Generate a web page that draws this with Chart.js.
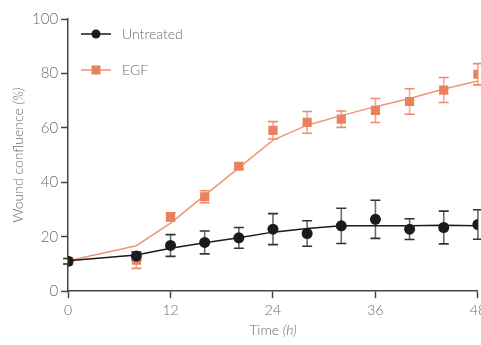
<!DOCTYPE html>
<html>
<head>
<meta charset="utf-8">
<script src="https://cdn.jsdelivr.net/npm/chart.js@4"></script>
<style>
  html, body { margin: 0; padding: 0; background: #fff; overflow: hidden; }
  #wrap { width: 490px; height: 345px; }
</style>
</head>
<body>
<div id="wrap"><canvas id="woundChart"></canvas></div>
<script>
// time points (h)
var times = [0, 8, 12, 16, 20, 24, 28, 32, 36, 40, 44, 48];

// measured means and errors
var untreatedMean = [11.0, 12.9, 16.8, 17.9, 19.6, 22.8, 21.2, 24.0, 26.4, 22.8, 23.4, 24.5];
var untreatedErr  = [1.0, 1.5, 4.0, 4.2, 3.8, 5.7, 4.7, 6.5, 7.0, 3.8, 6.0, 5.4];
var egfMean = [11.0, 11.4, 27.3, 34.7, 45.9, 59.1, 62.0, 63.2, 66.4, 69.7, 73.9, 79.7];
var egfErr  = [1.0, 3.0, 1.5, 2.2, 1.0, 3.2, 4.0, 3.0, 4.4, 4.7, 4.6, 3.9];

// fitted curves
var untreatedFit = [11.2, 13.3, 15.8, 17.8, 19.6, 21.7, 23.0, 24.0, 24.0, 24.0, 24.2, 24.0];
var egfFit = [11.2, 16.7, 25.0, 35.2, 45.3, 55.5, 61.0, 64.5, 67.8, 70.8, 74.3, 77.2];

var xTicks = [0, 12, 24, 36, 48];

var blackCol = '#1c1a1a';
var egfCol = 'rgb(234,128,92)';
var egfLine = 'rgb(239,150,118)';
var textCol = '#6a6a6a';
var axisCol = '#444';
var fontFam = 'Lato, "Open Sans", sans-serif';

function pts(ys) {
  var out = [];
  for (var i = 0; i < times.length; i++) out.push({x: times[i], y: ys[i]});
  return out;
}

// error bars drawn before the markers
var errorBars = {
  id: 'errorBars',
  beforeDatasetsDraw: function(chart) {
    var ctx = chart.ctx;
    var xs = chart.scales.x, ys = chart.scales.y;
    var sets = [
      {m: egfMean, e: egfErr, col: 'rgb(243,170,145)', cap: 'rgb(236,140,108)'},
      {m: untreatedMean, e: untreatedErr, col: '#6b6b6b', cap: '#333'}
    ];
    ctx.save();
    sets.forEach(function(s) {
      for (var i = 0; i < times.length; i++) {
        var px = xs.getPixelForValue(times[i]);
        var top = ys.getPixelForValue(s.m[i] + s.e[i]);
        var bot = ys.getPixelForValue(s.m[i] - s.e[i]);
        ctx.strokeStyle = s.col;
        ctx.lineWidth = 1.6;
        ctx.beginPath();
        ctx.moveTo(px, top); ctx.lineTo(px, bot);
        ctx.stroke();
        ctx.strokeStyle = s.cap;
        ctx.beginPath();
        ctx.moveTo(px - 5, top); ctx.lineTo(px + 5, top);
        ctx.moveTo(px - 5, bot); ctx.lineTo(px + 5, bot);
        ctx.stroke();
      }
    });
    ctx.restore();
  }
};

// draws "text (unit)" with the unit part in italics, centred on x,y
function mixedTitle(ctx, main, unit, x, y) {
  var f1 = '300 14px ' + fontFam;
  var f2 = 'italic 300 14px ' + fontFam;
  ctx.font = f1;
  var w1 = ctx.measureText(main).width;
  ctx.font = f2;
  var w2 = ctx.measureText(unit).width;
  var start = x - (w1 + w2) / 2;
  ctx.textAlign = 'left';
  ctx.textBaseline = 'middle';
  ctx.font = f1;
  ctx.fillText(main, start, y);
  ctx.font = f2;
  ctx.fillText(unit, start + w1, y);
}

// axis titles and legend inside the plot
var annotations = {
  id: 'annotations',
  afterDraw: function(chart) {
    var ctx = chart.ctx;
    var area = chart.chartArea;
    ctx.save();
    ctx.fillStyle = textCol;
    mixedTitle(ctx, 'Time ', '(h)', (area.left + area.right) / 2, 330);
    ctx.save();
    ctx.translate(18, (area.top + area.bottom) / 2);
    ctx.rotate(-Math.PI / 2);
    mixedTitle(ctx, 'Wound confluence ', '(%)', 0, 0);
    ctx.restore();

    var items = [
      {label: 'Untreated', line: blackCol, mark: 'circle', fill: blackCol, y: 34},
      {label: 'EGF', line: egfLine, mark: 'square', fill: egfCol, y: 70}
    ];
    items.forEach(function(it) {
      ctx.strokeStyle = it.line;
      ctx.lineWidth = 1.5;
      ctx.beginPath();
      ctx.moveTo(81, it.y); ctx.lineTo(111, it.y);
      ctx.stroke();
      ctx.fillStyle = it.fill;
      if (it.mark === 'circle') {
        ctx.beginPath();
        ctx.arc(96, it.y, 4.5, 0, Math.PI * 2);
        ctx.fill();
      } else {
        ctx.fillRect(91.5, it.y - 4.5, 9, 9);
      }
      ctx.fillStyle = textCol;
      ctx.font = '300 14px ' + fontFam;
      ctx.textAlign = 'left';
      ctx.textBaseline = 'middle';
      ctx.fillText(it.label, 122, it.y);
    });
    ctx.restore();
  }
};

var config = {
  type: 'scatter',
  data: {
    datasets: [
      {
        label: 'Untreated',
        data: pts(untreatedMean),
        showLine: false,
        pointStyle: 'circle',
        pointRadius: 5.5,
        pointBackgroundColor: blackCol,
        pointBorderWidth: 0,
        order: 1
      },
      {
        label: 'EGF',
        data: pts(egfMean),
        showLine: false,
        pointStyle: 'rect',
        pointRadius: 6.5,
        pointBackgroundColor: egfCol,
        pointBorderWidth: 0,
        order: 2
      },
      {
        label: 'Untreated fit',
        data: pts(untreatedFit),
        showLine: true,
        borderColor: blackCol,
        borderWidth: 1.5,
        pointRadius: 0,
        order: 3
      },
      {
        label: 'EGF fit',
        data: pts(egfFit),
        showLine: true,
        borderColor: egfLine,
        borderWidth: 1.5,
        pointRadius: 0,
        order: 4
      }
    ]
  },
  options: {
    responsive: true,
    maintainAspectRatio: false,
    animation: false,
    layout: { padding: { top: 19, left: 29, right: 0, bottom: 22 } },
    plugins: {
      legend: { display: false },
      tooltip: { enabled: false }
    },
    scales: {
      x: {
        type: 'linear',
        min: 0,
        max: 48,
        afterBuildTicks: function(axis) {
          axis.ticks = xTicks.map(function(v) { return {value: v}; });
        },
        border: { color: axisCol, width: 1.5 },
        grid: { drawOnChartArea: false, drawTicks: true, tickLength: 7, tickColor: axisCol, tickWidth: 1.5 },
        ticks: { color: textCol, font: { family: fontFam, size: 14, weight: 300 }, padding: 4, maxRotation: 0 }
      },
      y: {
        min: 0,
        max: 100,
        border: { color: axisCol, width: 1.5 },
        grid: { drawOnChartArea: false, drawTicks: true, tickLength: 7, tickColor: axisCol, tickWidth: 1.5 },
        ticks: { stepSize: 20, color: textCol, font: { family: fontFam, size: 15, weight: 300 }, padding: 3 }
      }
    }
  },
  plugins: [errorBars, annotations]
};

var myChart = new Chart(document.getElementById('woundChart'), config);
</script>
</body>
</html>
